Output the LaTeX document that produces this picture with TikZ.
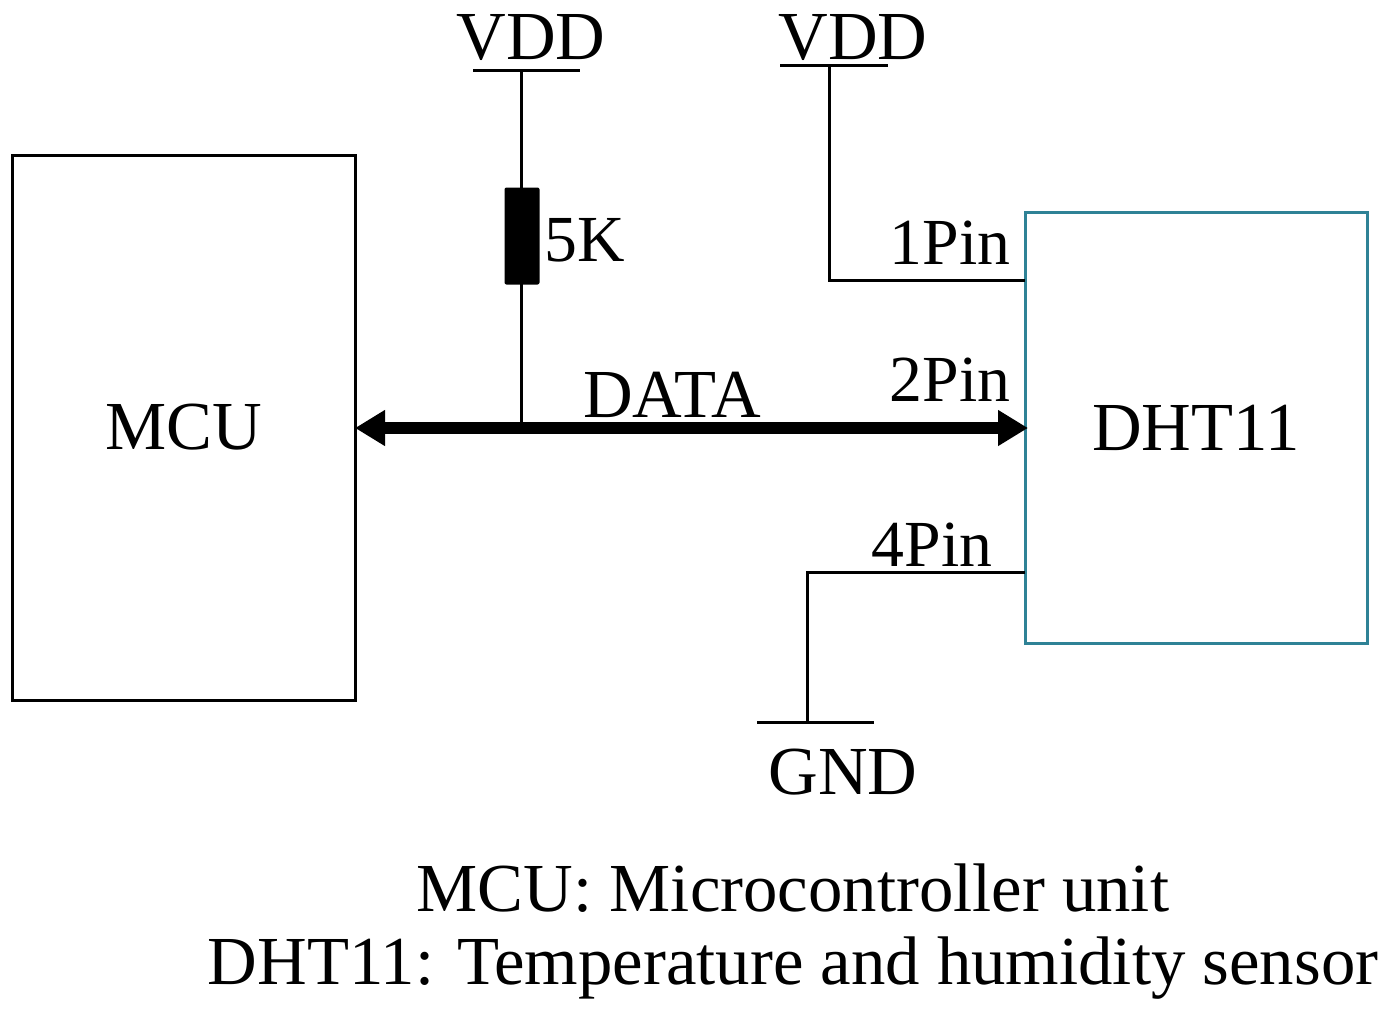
\documentclass[tikz,border=0pt]{standalone}
\usepackage{fontspec}
\setmainfont{Liberation Serif}
\usetikzlibrary{arrows.meta}
\begin{document}
\begin{tikzpicture}[x=1bp,y=-1bp,
  wire/.style={line width=3bp,black},
  big/.style={font=\fontsize{69}{76}\selectfont},
  pin/.style={font=\fontsize{66}{72}\selectfont}]
\useasboundingbox (0,0) rectangle (1382,1015);
\node[draw,wire,minimum width=342bp,minimum height=545bp,inner sep=0,big] (mcu) at (184,427.5) {MCU};
\node[draw,line width=3bp,color={rgb,255:red,47;green,130;blue,150},text=black,minimum width=342bp,minimum height=431bp,inner sep=0,big] (dht) at (1196,427.5) {DHT11};
\coordinate (aL) at (355,428);
\coordinate (aR) at (1028,428);
\draw[line width=12bp,{Triangle[length=30bp,width=34bp]}-{Triangle[length=30bp,width=34bp]}] (aL) -- (aR);
\node[big] (data) at (672,395) {DATA};
\coordinate (v1) at (521,70);
\coordinate (j) at (521,428);
\draw[wire] (473,70) -- (580,70);
\node[big] (vdd1) at (531,38) {VDD};
\draw[wire] (v1) -- (j);
\node[fill=black,minimum width=35bp,minimum height=97bp,inner sep=0,rounded corners=2bp] (res) at (522,236) {};
\node[pin] (r5k) at (585,240) {5K};
\draw[wire] (780,65) -- (888,65);
\node[big] (vdd2) at (853,38) {VDD};
\draw[wire] (829,65) -- (829,280) -- (1025,280);
\node[pin] (p1) at (950,243) {1Pin};
\node[pin] (p2) at (950,380) {2Pin};
\node[pin] (p4) at (932,545) {4Pin};
\draw[wire] (1025,572) -- (807,572) -- (807,722);
\draw[wire] (757,722) -- (874,722);
\node[big] (gnd) at (843,772) {GND};
\node[big] (c1) at (793,888) {MCU: Microcontroller unit};
\node[big] (c2) at (793,968) {DHT11: Temperature and humidity sensor};
\end{tikzpicture}
\end{document}
